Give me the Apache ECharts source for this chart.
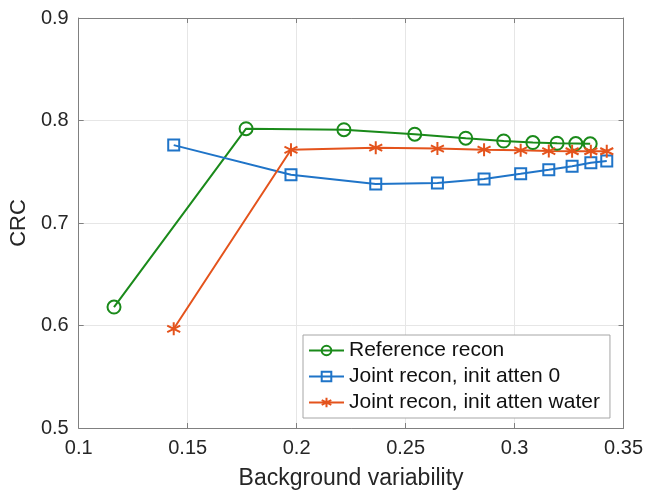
<!DOCTYPE html>
<html>
<head>
<meta charset="utf-8">
<script src="https://cdn.jsdelivr.net/npm/echarts@6/dist/echarts.min.js"></script>
<style>html,body{margin:0;padding:0;background:#fff}#c{width:646px;height:496px}</style>
</head>
<body>
<div id="c"></div>
<script>
// Data
const seriesNames = ['Reference recon', 'Joint recon, init atten 0', 'Joint recon, init atten water'];
const refX = [0.1162, 0.1768, 0.2217, 0.2542, 0.2776, 0.2950, 0.3084, 0.3195, 0.3281, 0.3347];
const refY = [0.618, 0.792, 0.791, 0.7866, 0.7827, 0.780, 0.7785, 0.7778, 0.7775, 0.7772];
const jointX = [0.1436, 0.1974, 0.2363, 0.2646, 0.2860, 0.3028, 0.3157, 0.3264, 0.3350, 0.3423];
const joint0Y = [0.776, 0.747, 0.738, 0.739, 0.743, 0.748, 0.752, 0.7554, 0.7587, 0.7604];
const jointWaterY = [0.5968, 0.7714, 0.7735, 0.7726, 0.7715, 0.7709, 0.7702, 0.770, 0.770, 0.770];
const xTicks = [0.1, 0.15, 0.2, 0.25, 0.3, 0.35];
const yTicks = [0.5, 0.6, 0.7, 0.8, 0.9];

const pair = (xs, ys) => xs.map((x, i) => [x, ys[i]]);
const colors = ['#1a8a1a', '#1f74c8', '#e4531c'];
const FONT = '"Liberation Sans", Arial, Helvetica, sans-serif';
const axisGray = '#808080';
const star = 'path://M5,0 L5,10 M0.7,2.5 L9.3,7.5 M0.7,7.5 L9.3,2.5';

const chart = echarts.init(document.getElementById('c'), null, {renderer: 'canvas'});
const xFmt = v => { const s = xTicks.find(t => Math.abs(t - v) < 1e-9); return s === undefined ? '' : String(s); };
const yFmt = v => { const s = yTicks.find(t => Math.abs(t - v) < 1e-9); return s === undefined ? '' : String(s); };

const baseAxis = {
  axisLine: {show: true, lineStyle: {color: axisGray, width: 1}},
  axisTick: {show: true, inside: true, length: 5, lineStyle: {color: axisGray}},
};

function mk(name, data, color, symbol, size) {
  return {
    name, type: 'line', data, symbol, symbolSize: size,
    lineStyle: {color, width: 2},
    itemStyle: {color: 'transparent', borderColor: color, borderWidth: 2},
    emphasis: {disabled: true},
    animation: false, z: 3
  };
}

chart.setOption({
  animation: false,
  backgroundColor: '#fff',
  grid: {left: 75, right: 21, top: 18, bottom: 68, containLabel: false},
  xAxis: [
    Object.assign({
      type: 'value', min: 0.1, max: 0.35, interval: 0.05,
      name: 'Background variability', nameLocation: 'middle', nameGap: 39,
      nameTextStyle: {fontFamily: FONT, fontSize: 23, color: '#262626'},
      axisLabel: {fontFamily: FONT, fontSize: 20, color: '#262626', margin: 10, formatter: xFmt},
      splitLine: {show: true, lineStyle: {color: '#e6e6e6', width: 1}}
    }, baseAxis),
    Object.assign({
      type: 'value', min: 0.1, max: 0.35, interval: 0.05, position: 'top',
      axisLabel: {show: false}, splitLine: {show: false}
    }, baseAxis)
  ],
  yAxis: [
    Object.assign({
      type: 'value', min: 0.5, max: 0.9, interval: 0.1,
      name: 'CRC', nameLocation: 'middle', nameGap: 45,
      nameTextStyle: {fontFamily: FONT, fontSize: 22, color: '#262626'},
      axisLabel: {fontFamily: FONT, fontSize: 20, color: '#262626', margin: 10, formatter: yFmt},
      splitLine: {show: true, lineStyle: {color: '#e6e6e6', width: 1}}
    }, baseAxis),
    Object.assign({
      type: 'value', min: 0.5, max: 0.9, interval: 0.1, position: 'right',
      axisLabel: {show: false}, splitLine: {show: false}
    }, baseAxis)
  ],
  legend: {
    orient: 'vertical', left: 303, top: 335,
    padding: [5, 10, 5, 5],
    itemWidth: 35, itemHeight: 12, itemGap: 5,
    backgroundColor: '#fff', borderColor: '#a6a6a6', borderWidth: 1,
    textStyle: {fontFamily: FONT, fontSize: 21, color: '#111'},
    data: seriesNames,
    selectedMode: false
  },
  series: [
    mk(seriesNames[0], pair(refX, refY), colors[0], 'circle', 13),
    mk(seriesNames[1], pair(jointX, joint0Y), colors[1], 'rect', 11),
    mk(seriesNames[2], pair(jointX, jointWaterY), colors[2], star, 13)
  ]
});
</script>
</body>
</html>
